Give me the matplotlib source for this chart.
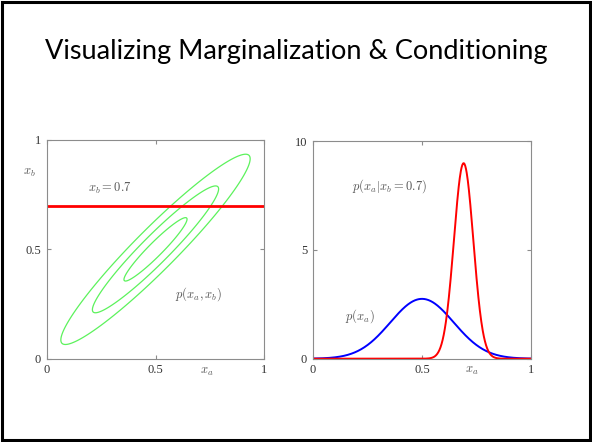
import numpy as np
import matplotlib
matplotlib.use("Agg")
import matplotlib.pyplot as plt
from matplotlib.patches import Rectangle

mu_a, mu_b = 0.5, 0.5
sigma_a, sigma_b = 0.145, 0.145
rho = 0.952
contour_levels = [1, 2, 3]  # mahalanobis radii of the three ellipses
x_b_given = 0.7

left_ticks = [0, 0.5, 1]
left_tick_labels = ["0", "0.5", "1"]
right_yticks = [0, 5, 10]
right_ytick_labels = ["0", "5", "10"]

W, H = 592, 442
plt.rcParams["mathtext.fontset"] = "cm"
plt.rcParams["font.family"] = "Liberation Serif"

fig = plt.figure(figsize=(W / 100, H / 100), dpi=100)


def ax_at(x0, y0, x1, y1):
    return fig.add_axes([x0 / W, 1 - y1 / H, (x1 - x0) / W, (y1 - y0) / H])


def style(ax):
    for s in ax.spines.values():
        s.set_color("#8c8c8c")
        s.set_linewidth(0.8)
    ax.tick_params(direction="in", top=True, right=True, length=3,
                   color="#8c8c8c", labelsize=9, labelcolor="#333333", pad=4)


def label(ax, x, y, s):
    ax.text(x, y, s, transform=ax.transAxes, fontsize=9, color="#555555",
            ha="center", va="center")


# slide frame and title
fig.patches.append(Rectangle((1.5 / W, 2.5 / H), (W - 4) / W, (H - 4.5) / H,
                             transform=fig.transFigure, fill=False,
                             edgecolor="black", linewidth=2.2))
fig.text(296.5 / W, 1 - 52 / H, "Visualizing Marginalization & Conditioning",
         ha="center", va="center", fontsize=19.5, family="Lato", color="black")

# left: contours of joint density
ax1 = ax_at(46.7, 140, 264.3, 358.7)
g = np.linspace(0, 1, 400)
XA, XB = np.meshgrid(g, g)
za = (XA - mu_a) / sigma_a
zb = (XB - mu_b) / sigma_b
maha = np.sqrt((za ** 2 - 2 * rho * za * zb + zb ** 2) / (1 - rho ** 2))
ax1.contour(XA, XB, maha, levels=contour_levels, colors="#5cf25c", linewidths=0.9)
ax1.axhline(x_b_given, color="red", linewidth=2)
ax1.set_xlim(0, 1)
ax1.set_ylim(0, 1)
ax1.set_xticks(left_ticks, left_tick_labels)
ax1.set_yticks(left_ticks, left_tick_labels)
style(ax1)
label(ax1, -0.08, 0.85, r"$x_b$")
label(ax1, 0.735, -0.06, r"$x_a$")
label(ax1, 0.29, 0.78, r"$x_b = 0.7$")
label(ax1, 0.70, 0.295, r"$p(x_a,x_b)$")

# right: marginal and conditional
ax2 = ax_at(312.7, 141.2, 531.3, 358.7)
x = np.linspace(0, 1, 600)
marg = np.exp(-0.5 * ((x - mu_a) / sigma_a) ** 2) / (sigma_a * np.sqrt(2 * np.pi))
c_mu = mu_a + rho * sigma_a / sigma_b * (x_b_given - mu_b)
c_sd = sigma_a * np.sqrt(1 - rho ** 2)
cond = np.exp(-0.5 * ((x - c_mu) / c_sd) ** 2) / (c_sd * np.sqrt(2 * np.pi))
ax2.plot(x, marg, color="blue", linewidth=1.4)
ax2.plot(x, cond, color="red", linewidth=1.4)
ax2.set_xlim(0, 1)
ax2.set_ylim(0, 10)
ax2.set_xticks(left_ticks, left_tick_labels)
ax2.set_yticks(right_yticks, right_ytick_labels)
style(ax2)
label(ax2, 0.727, -0.055, r"$x_a$")
label(ax2, 0.35, 0.795, r"$p(x_a|x_b = 0.7)$")
label(ax2, 0.215, 0.196, r"$p(x_a)$")

fig.savefig("out.png", dpi=100)
